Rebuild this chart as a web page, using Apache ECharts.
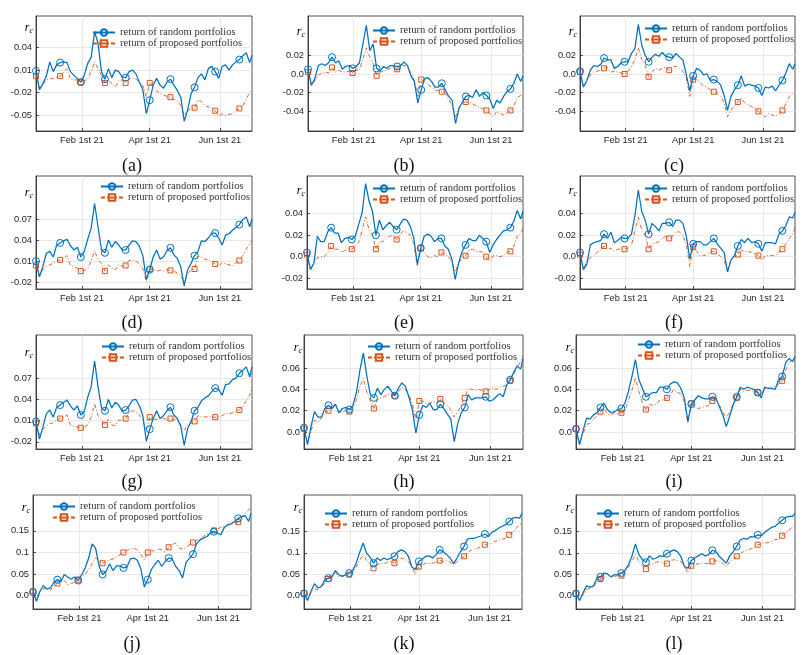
<!DOCTYPE html>
<html><head><meta charset="utf-8">
<script src="https://cdn.jsdelivr.net/npm/echarts@6/dist/echarts.min.js"></script>
<style>html,body{margin:0;padding:0;background:#fff}#c{width:807px;height:655px}</style>
</head><body><div id="c"></div>
<script>
// ---------- data ----------
const dates = ['2020-12-23','2020-12-26','2020-12-29','2021-01-01','2021-01-04','2021-01-07','2021-01-10','2021-01-13','2021-01-16','2021-01-19',
'2021-01-22','2021-01-25','2021-01-28','2021-01-31','2021-02-03','2021-02-06','2021-02-09','2021-02-12','2021-02-15','2021-02-18',
'2021-02-21','2021-02-24','2021-02-27','2021-03-02','2021-03-05','2021-03-08','2021-03-11','2021-03-14','2021-03-17','2021-03-20',
'2021-03-23','2021-03-26','2021-03-29','2021-04-01','2021-04-04','2021-04-07','2021-04-10','2021-04-13','2021-04-16','2021-04-19',
'2021-04-22','2021-04-25','2021-04-28','2021-05-01','2021-05-04','2021-05-07','2021-05-10','2021-05-13','2021-05-16','2021-05-19',
'2021-05-22','2021-05-25','2021-05-28','2021-05-31','2021-06-03','2021-06-06','2021-06-09','2021-06-12','2021-06-15','2021-06-18',
'2021-06-21','2021-06-24','2021-06-27','2021-06-29'];
const xRange = ['2020-12-23','2021-06-29'];
const xTickDates = ['2021-02-01','2021-04-01','2021-06-01'];
const xTickLabels = ['Feb 1st 21','Apr 1st 21','Jun 1st 21'];
const seriesNames = ['return of random portfolios','return of proposed portfolios'];
const markerIdx = [0,7,13,20,26,33,39,46,52,59];
const panelLabels = ['(a)','(b)','(c)','(d)','(e)','(f)','(g)','(h)','(i)','(j)','(k)','(l)'];

const randA = [0.009,-0.016,-0.008,0.002,0.021,0.008,0.017,0.020,0.021,0.020,0.008,0.003,-0.001,-0.006,0.003,0.019,0.027,0.061,0.046,0.008,-0.002,0.012,0.000,0.010,0.008,0.001,0.000,0.008,0.010,0.005,-0.006,-0.016,-0.048,-0.030,-0.010,-0.001,-0.010,-0.014,-0.006,-0.002,-0.010,-0.017,-0.026,-0.058,-0.043,-0.021,-0.013,0.000,0.005,-0.003,0.012,0.015,0.008,-0.001,0.015,0.017,0.010,0.017,0.021,0.024,0.029,0.033,0.020,0.030];
const propA = [0.002,-0.014,-0.009,-0.003,-0.002,-0.001,0.000,0.002,0.007,0.012,-0.002,-0.003,-0.003,-0.006,-0.004,-0.002,0.008,0.021,0.012,0.003,-0.007,-0.003,-0.008,-0.013,-0.004,-0.003,-0.007,-0.002,0.000,-0.002,-0.006,-0.011,-0.025,-0.007,-0.011,-0.018,-0.021,-0.023,-0.025,-0.026,-0.029,-0.031,-0.037,-0.050,-0.044,-0.041,-0.040,-0.030,-0.032,-0.037,-0.039,-0.041,-0.044,-0.051,-0.048,-0.050,-0.049,-0.048,-0.044,-0.041,-0.038,-0.028,-0.020,-0.018];
const randB = [0.005,-0.012,-0.005,0.009,0.011,0.009,0.012,0.018,0.012,0.014,0.005,0.008,0.009,0.006,0.008,0.012,0.032,0.052,0.025,0.032,0.006,0.003,0.008,0.006,0.009,0.009,0.008,0.009,0.013,0.009,-0.002,-0.008,-0.031,-0.017,-0.005,-0.004,-0.008,-0.014,-0.014,-0.010,-0.017,-0.024,-0.028,-0.053,-0.037,-0.030,-0.024,-0.023,-0.025,-0.017,-0.024,-0.020,-0.023,-0.027,-0.037,-0.028,-0.031,-0.024,-0.019,-0.016,-0.010,0.000,-0.008,-0.002];
const propB = [0.002,-0.013,-0.007,-0.001,0.001,0.002,0.001,0.007,0.002,0.004,0.002,0.002,0.003,0.001,0.004,0.004,0.016,0.028,0.018,0.011,-0.002,0.002,0.003,0.004,0.006,0.007,0.005,0.010,0.009,0.008,0.001,-0.007,-0.024,-0.006,-0.008,-0.011,-0.014,-0.017,-0.018,-0.019,-0.021,-0.027,-0.034,-0.046,-0.036,-0.031,-0.030,-0.030,-0.032,-0.034,-0.036,-0.037,-0.039,-0.042,-0.046,-0.040,-0.042,-0.044,-0.042,-0.039,-0.034,-0.025,-0.023,-0.021];
const randC = [0.003,-0.014,-0.007,0.004,0.009,0.008,0.010,0.017,0.015,0.015,0.006,0.008,0.012,0.013,0.013,0.022,0.027,0.053,0.031,0.020,0.013,0.018,0.021,0.019,0.023,0.019,0.018,0.017,0.022,0.018,0.015,-0.001,-0.018,-0.002,0.006,0.004,-0.001,0.000,-0.007,-0.006,-0.008,-0.012,-0.023,-0.039,-0.024,-0.017,-0.012,-0.002,-0.013,-0.011,-0.012,-0.013,-0.015,-0.023,-0.014,-0.015,-0.013,-0.018,-0.012,-0.007,0.001,0.011,0.005,0.011];
const propC = [0.002,-0.014,-0.007,-0.001,0.002,0.003,0.004,0.006,0.007,0.002,0.003,0.002,0.001,0.000,0.003,0.008,0.015,0.028,0.015,0.009,-0.003,0.002,0.006,0.004,0.006,0.007,0.004,0.008,0.008,0.006,0.003,-0.005,-0.024,-0.006,-0.006,-0.009,-0.013,-0.014,-0.017,-0.019,-0.021,-0.024,-0.031,-0.046,-0.039,-0.034,-0.030,-0.026,-0.031,-0.033,-0.035,-0.037,-0.040,-0.043,-0.046,-0.042,-0.044,-0.045,-0.043,-0.039,-0.032,-0.024,-0.021,-0.021];
const randD = [0.010,-0.012,0.003,0.021,0.024,0.016,0.033,0.036,0.039,0.041,0.032,0.026,0.030,0.016,0.024,0.041,0.057,0.092,0.059,0.026,0.022,0.040,0.030,0.038,0.033,0.026,0.026,0.033,0.039,0.038,0.031,0.018,-0.016,-0.002,0.016,0.026,0.013,0.016,0.025,0.029,0.019,0.014,0.002,-0.025,-0.002,0.007,0.018,0.024,0.039,0.038,0.043,0.050,0.050,0.043,0.033,0.047,0.049,0.054,0.058,0.062,0.069,0.073,0.059,0.070];
const propD = [0.004,-0.012,-0.002,0.003,0.005,0.007,0.010,0.012,0.014,0.018,0.004,0.002,0.000,-0.004,-0.003,0.000,0.010,0.025,0.012,0.007,-0.004,0.005,0.000,-0.002,0.005,0.003,0.004,0.011,0.012,0.010,0.006,0.000,-0.019,-0.001,-0.002,-0.004,-0.003,-0.004,-0.002,-0.003,-0.004,-0.007,-0.010,-0.021,-0.007,-0.003,-0.001,0.017,0.016,0.013,0.012,0.010,0.006,0.003,0.008,0.006,0.005,0.003,0.008,0.011,0.018,0.027,0.035,0.040];
const randE = [0.004,-0.012,-0.006,0.019,0.014,0.014,0.023,0.027,0.022,0.022,0.013,0.017,0.018,0.016,0.019,0.030,0.041,0.068,0.052,0.042,0.020,0.034,0.025,0.029,0.032,0.028,0.025,0.030,0.035,0.034,0.028,0.017,-0.007,0.008,0.019,0.021,0.019,0.014,0.017,0.017,0.010,0.007,-0.002,-0.021,-0.006,0.005,0.011,0.017,0.015,0.015,0.020,0.017,0.014,0.004,0.011,0.016,0.020,0.024,0.025,0.027,0.033,0.043,0.035,0.042];
const propE = [0.002,-0.012,-0.006,-0.001,0.000,0.000,0.004,0.010,0.007,0.007,0.004,0.006,0.007,0.007,0.010,0.013,0.025,0.037,0.025,0.020,0.007,0.014,0.014,0.017,0.019,0.020,0.016,0.021,0.024,0.022,0.020,0.012,-0.009,0.008,0.004,0.000,-0.001,0.001,0.000,0.004,0.002,0.000,-0.004,-0.014,-0.006,-0.001,0.001,0.006,0.007,0.005,0.005,0.004,0.000,-0.004,0.001,0.001,0.000,0.001,0.004,0.005,0.010,0.019,0.022,0.026];
const randF = [0.004,-0.012,-0.007,0.011,0.013,0.014,0.015,0.021,0.017,0.023,0.013,0.015,0.018,0.017,0.017,0.021,0.038,0.062,0.042,0.034,0.021,0.031,0.028,0.024,0.031,0.031,0.032,0.028,0.034,0.034,0.031,0.019,-0.002,0.012,0.014,0.014,0.011,0.011,0.014,0.017,0.012,0.008,0.004,-0.014,-0.003,0.001,0.010,0.016,0.013,0.017,0.013,0.014,0.012,0.005,0.013,0.013,0.013,0.012,0.021,0.024,0.029,0.037,0.036,0.041];
const propF = [0.002,-0.012,-0.004,-0.001,0.001,0.004,0.006,0.010,0.007,0.008,0.005,0.007,0.007,0.007,0.008,0.011,0.024,0.037,0.025,0.020,0.007,0.012,0.013,0.014,0.017,0.019,0.017,0.019,0.023,0.023,0.020,0.011,-0.009,0.009,0.005,0.001,0.001,0.002,0.004,0.005,0.003,0.000,-0.003,-0.014,-0.003,0.000,0.002,0.006,0.005,0.005,0.004,0.003,0.001,-0.003,0.001,0.001,0.001,0.001,0.005,0.007,0.012,0.017,0.021,0.027];
const randG = [0.009,-0.016,0.001,0.020,0.025,0.015,0.029,0.032,0.036,0.039,0.031,0.025,0.031,0.018,0.023,0.043,0.058,0.094,0.058,0.028,0.024,0.040,0.028,0.036,0.032,0.023,0.025,0.031,0.039,0.040,0.031,0.017,-0.019,-0.002,0.013,0.024,0.013,0.017,0.024,0.029,0.018,0.013,0.002,-0.025,-0.001,0.009,0.024,0.029,0.038,0.042,0.045,0.051,0.056,0.054,0.046,0.061,0.062,0.068,0.070,0.077,0.081,0.086,0.072,0.086];
const propG = [0.006,-0.010,-0.002,0.002,0.006,0.007,0.011,0.013,0.015,0.018,0.004,0.002,0.001,0.000,0.001,0.004,0.015,0.034,0.017,0.011,0.004,0.012,0.004,0.003,0.011,0.010,0.013,0.021,0.024,0.023,0.018,0.010,-0.003,0.015,0.011,0.012,0.013,0.013,0.012,0.013,0.012,0.010,0.004,-0.004,0.004,0.007,0.009,0.017,0.016,0.015,0.016,0.015,0.015,0.015,0.017,0.020,0.020,0.021,0.023,0.025,0.030,0.038,0.046,0.057];
const randH = [0.004,-0.012,0.005,0.019,0.014,0.014,0.022,0.025,0.022,0.026,0.018,0.022,0.023,0.021,0.025,0.037,0.058,0.074,0.052,0.035,0.032,0.041,0.035,0.040,0.043,0.038,0.034,0.041,0.046,0.043,0.033,0.021,-0.001,0.016,0.025,0.023,0.027,0.021,0.021,0.026,0.022,0.017,0.012,-0.009,0.008,0.018,0.023,0.035,0.030,0.032,0.032,0.032,0.033,0.029,0.030,0.033,0.036,0.033,0.044,0.049,0.056,0.062,0.059,0.069];
const propH = [0.003,-0.010,0.001,0.011,0.009,0.013,0.018,0.020,0.023,0.026,0.018,0.019,0.020,0.019,0.023,0.030,0.043,0.050,0.037,0.029,0.022,0.030,0.032,0.033,0.035,0.035,0.034,0.038,0.042,0.040,0.035,0.027,0.011,0.029,0.029,0.027,0.027,0.029,0.027,0.031,0.028,0.025,0.021,0.014,0.019,0.025,0.032,0.041,0.040,0.039,0.040,0.039,0.038,0.040,0.042,0.040,0.042,0.043,0.044,0.048,0.054,0.061,0.066,0.072];
const randI = [0.003,-0.012,0.001,0.013,0.012,0.016,0.018,0.023,0.027,0.021,0.018,0.019,0.021,0.022,0.027,0.038,0.052,0.068,0.049,0.041,0.033,0.035,0.037,0.037,0.042,0.042,0.040,0.045,0.047,0.046,0.041,0.032,0.010,0.026,0.030,0.034,0.032,0.031,0.031,0.033,0.032,0.024,0.016,0.005,0.015,0.026,0.033,0.042,0.040,0.042,0.041,0.040,0.037,0.032,0.042,0.041,0.041,0.040,0.049,0.052,0.065,0.069,0.066,0.071];
const propI = [0.003,-0.011,-0.002,0.007,0.008,0.012,0.015,0.019,0.023,0.017,0.016,0.018,0.017,0.018,0.020,0.030,0.039,0.051,0.038,0.027,0.021,0.026,0.025,0.026,0.030,0.030,0.032,0.035,0.040,0.037,0.036,0.028,0.008,0.027,0.023,0.022,0.023,0.024,0.025,0.029,0.030,0.025,0.019,0.013,0.019,0.026,0.032,0.040,0.038,0.039,0.039,0.038,0.037,0.035,0.041,0.041,0.041,0.043,0.045,0.048,0.058,0.065,0.068,0.070];
const randJ = [0.008,-0.013,0.010,0.023,0.015,0.018,0.031,0.037,0.033,0.049,0.043,0.038,0.043,0.035,0.049,0.064,0.087,0.120,0.110,0.068,0.049,0.056,0.074,0.058,0.069,0.069,0.064,0.066,0.085,0.087,0.082,0.062,0.020,0.037,0.060,0.072,0.082,0.068,0.079,0.087,0.085,0.068,0.058,0.041,0.077,0.087,0.096,0.120,0.129,0.133,0.137,0.145,0.148,0.145,0.141,0.158,0.164,0.166,0.172,0.179,0.183,0.185,0.172,0.191];
const propJ = [0.010,-0.005,0.010,0.015,0.020,0.012,0.023,0.028,0.031,0.035,0.025,0.028,0.031,0.037,0.045,0.049,0.060,0.074,0.087,0.083,0.075,0.079,0.082,0.085,0.089,0.095,0.100,0.105,0.108,0.110,0.106,0.095,0.083,0.100,0.105,0.102,0.108,0.106,0.102,0.112,0.118,0.122,0.110,0.108,0.112,0.118,0.123,0.128,0.131,0.137,0.143,0.146,0.151,0.154,0.158,0.161,0.164,0.168,0.168,0.170,0.182,0.191,0.198,0.206];
const randK = [0.005,-0.011,0.010,0.028,0.018,0.022,0.037,0.041,0.044,0.059,0.049,0.045,0.049,0.053,0.059,0.076,0.101,0.123,0.099,0.090,0.076,0.088,0.082,0.088,0.084,0.088,0.092,0.103,0.107,0.103,0.092,0.067,0.061,0.080,0.085,0.092,0.093,0.088,0.096,0.107,0.103,0.096,0.088,0.075,0.088,0.103,0.115,0.132,0.134,0.134,0.137,0.140,0.144,0.138,0.148,0.152,0.158,0.162,0.166,0.173,0.181,0.183,0.181,0.193];
const propK = [0.006,-0.006,0.006,0.016,0.014,0.020,0.030,0.039,0.044,0.054,0.045,0.047,0.048,0.049,0.054,0.067,0.082,0.096,0.082,0.072,0.064,0.072,0.076,0.075,0.078,0.080,0.076,0.082,0.088,0.085,0.080,0.067,0.051,0.068,0.072,0.076,0.075,0.076,0.078,0.082,0.080,0.082,0.078,0.070,0.080,0.085,0.092,0.101,0.106,0.109,0.111,0.115,0.119,0.121,0.123,0.127,0.129,0.132,0.134,0.142,0.148,0.158,0.166,0.169];
const randL = [0.005,-0.011,0.006,0.023,0.020,0.023,0.041,0.044,0.053,0.051,0.044,0.049,0.049,0.053,0.059,0.072,0.092,0.121,0.096,0.084,0.078,0.093,0.085,0.088,0.093,0.092,0.098,0.103,0.107,0.103,0.092,0.068,0.064,0.082,0.088,0.093,0.098,0.093,0.096,0.106,0.103,0.092,0.084,0.076,0.093,0.103,0.115,0.130,0.134,0.132,0.138,0.137,0.142,0.140,0.148,0.154,0.160,0.162,0.169,0.176,0.183,0.185,0.185,0.193];
const propL = [0.005,-0.008,0.002,0.014,0.018,0.020,0.033,0.039,0.051,0.051,0.044,0.045,0.047,0.047,0.053,0.067,0.080,0.096,0.080,0.070,0.062,0.072,0.075,0.078,0.080,0.076,0.075,0.082,0.084,0.082,0.080,0.070,0.053,0.070,0.072,0.075,0.076,0.075,0.075,0.080,0.082,0.080,0.076,0.067,0.080,0.085,0.092,0.098,0.103,0.107,0.109,0.113,0.119,0.121,0.123,0.124,0.127,0.131,0.132,0.140,0.146,0.154,0.161,0.168];

const yTicksA = ['-0.05','-0.02','0.01','0.04'];
const yTicksB = ['-0.04','-0.02','0.0','0.02'];
const yTicksD = ['-0.02','0.01','0.04','0.07'];
const yTicksE = ['-0.02','0.0','0.02','0.04'];
const yTicksH = ['0.0','0.02','0.04','0.06'];
const yTicksJ = ['0.0','0.05','0.1','0.15'];
const yRangeA = [-0.071, 0.082];
const yRangeB = [-0.061, 0.062];
const yRangeD = [-0.0294, 0.131];
const yRangeE = [-0.030, 0.075];
const yRangeG = [-0.030, 0.131];
const yRangeH = [-0.016, 0.091];
const yRangeJ = [-0.031, 0.233];
const yRangeK = [-0.031, 0.235];

// ---------- layout / style ----------
const BLUE = '#0072BD', ORANGE = '#D95319', AX = '#262626', GRID = '#e2e2e2';
const panels = [
  {r:randA,p:propA,t:yTicksA,y:yRangeA,box:[36,252,16,131],lg:[92,27],rc:[33,28],cap:[132,166]},
  {r:randB,p:propB,t:yTicksB,y:yRangeB,box:[308,523,16,131],lg:[372,25],rc:[305,32],cap:[404,166]},
  {r:randC,p:propC,t:yTicksB,y:yRangeB,box:[580,795,16,131],lg:[644,23],rc:[577,32],cap:[674,166]},
  {r:randD,p:propD,t:yTicksD,y:yRangeD,box:[36,252,176,289],lg:[100,181],rc:[33,193],cap:[132,323]},
  {r:randE,p:propE,t:yTicksE,y:yRangeE,box:[307,523,176,289],lg:[372,183],rc:[305,191],cap:[404,323]},
  {r:randF,p:propF,t:yTicksE,y:yRangeE,box:[580,795,176,289],lg:[644,183],rc:[577,191],cap:[674,323]},
  {r:randG,p:propG,t:yTicksD,y:yRangeG,box:[36,252,335,449],lg:[101,341],rc:[33,353],cap:[132,482]},
  {r:randH,p:propH,t:yTicksH,y:yRangeH,box:[304,523,335,449],lg:[367,341],rc:[302,348],cap:[404,482]},
  {r:randI,p:propI,t:yTicksH,y:yRangeH,box:[576,795,335,449],lg:[637,339],rc:[574,348],cap:[674,482]},
  {r:randJ,p:propJ,t:yTicksJ,y:yRangeJ,box:[33,251,495,609],lg:[52,501],rc:[30,508],cap:[132,644]},
  {r:randK,p:propK,t:yTicksJ,y:yRangeK,box:[304,522,495,609],lg:[324,508],rc:[302,508],cap:[404,644]},
  {r:randL,p:propL,t:yTicksJ,y:yRangeK,box:[576,795,495,609],lg:[596,508],rc:[574,508],cap:[674,644]}
];

const toTime = s => +echarts.time.parse(s);
const markerSet = new Set(markerIdx);
const xTickVals = xTickDates.map(toTime);
const xTimes = dates.map(toTime);
function nearestLabel(v, vals, labels) {
  let bi = 0, bd = Infinity;
  vals.forEach((x, i) => { const d = Math.abs(x - v); if (d < bd) { bd = d; bi = i; } });
  return labels[bi];
}

const TICK_FONT = {fontFamily: 'Liberation Sans', fontSize: 9.3, color: AX};
const grid = [], xAxis = [], yAxis = [], series = [], legend = [], graphic = [];
panels.forEach((P, i) => {
  const [l, r, t, b] = P.box;
  grid.push({left: l, top: t, width: r - l, height: b - t, show: true, borderColor: AX, borderWidth: 0.8,
             backgroundColor: 'transparent', containLabel: false, outerBoundsMode: 'none'});
  xAxis.push({
    type: 'value', gridIndex: i, min: toTime(xRange[0]), max: toTime(xRange[1]),
    axisLine: {show: true, onZero: false, lineStyle: {color: AX, width: 0.8}},
    axisTick: {show: true, inside: true, length: 3, customValues: xTickVals, lineStyle: {color: AX, width: 0.8}},
    axisLabel: Object.assign({show: true, customValues: xTickVals, margin: 5,
                formatter: v => nearestLabel(v, xTickVals, xTickLabels), hideOverlap: false}, TICK_FONT),
    splitLine: {show: true, lineStyle: {color: GRID, width: 0.8}}
  });
  const yVals = P.t.map(parseFloat);
  yAxis.push({
    type: 'value', gridIndex: i, min: P.y[0], max: P.y[1],
    axisLine: {show: true, onZero: false, lineStyle: {color: AX, width: 0.8}},
    axisTick: {show: true, inside: true, length: 3, customValues: yVals, lineStyle: {color: AX, width: 0.8}},
    axisLabel: Object.assign({show: true, customValues: yVals, margin: 4,
                formatter: v => nearestLabel(v, yVals, P.t), hideOverlap: false}, TICK_FONT),
    splitLine: {show: true, lineStyle: {color: GRID, width: 0.8}}
  });
  series.push({
    type: 'line', name: seriesNames[0], xAxisIndex: i, yAxisIndex: i,
    data: xTimes.map((x, k) => [x, P.r[k]]),
    symbol: 'circle', showSymbol: true,
    symbolSize: (v, params) => markerSet.has(params.dataIndex) ? 7 : 0,
    lineStyle: {color: BLUE, width: 1.25},
    itemStyle: {color: 'rgba(255,255,255,0)', borderColor: BLUE, borderWidth: 1},
    emphasis: {disabled: true}, z: 3, silent: true
  });
  series.push({
    type: 'line', name: seriesNames[1], xAxisIndex: i, yAxisIndex: i,
    data: xTimes.map((x, k) => [x, P.p[k]]),
    symbol: 'rect', showSymbol: true,
    symbolSize: (v, params) => markerSet.has(params.dataIndex) ? 5 : 0,
    lineStyle: {color: ORANGE, width: 0.9, type: [4, 2, 1, 2]},
    itemStyle: {color: 'rgba(255,255,255,0)', borderColor: ORANGE, borderWidth: 1},
    emphasis: {disabled: true}, z: 2, silent: true
  });
  legend.push({
    left: P.lg[0], top: P.lg[1], orient: 'vertical', padding: 0, itemWidth: 22, itemHeight: 8, itemGap: 0,
    selectedMode: false, data: seriesNames,
    textStyle: {fontFamily: 'Liberation Serif', fontSize: 10.6, lineHeight: 11, color: '#333'}
  });
  graphic.push({
    type: 'text', x: P.rc[0], y: P.rc[1], silent: true,
    style: {text: '{r|r}{c|c}', align: 'right', verticalAlign: 'middle',
      rich: {r: {fontFamily: 'Liberation Serif', fontStyle: 'italic', fontSize: 12, color: '#555'},
             c: {fontFamily: 'Liberation Serif', fontStyle: 'italic', fontSize: 8, color: '#555', padding: [5, 0, 0, 0]}}}
  });
  graphic.push({
    type: 'text', x: P.cap[0], y: P.cap[1], silent: true,
    style: {text: panelLabels[i], align: 'center', verticalAlign: 'middle', fill: '#111',
            font: '18px "Liberation Serif"'}
  });
});

const chart = echarts.init(document.getElementById('c'), null, {renderer: 'canvas'});
chart.setOption({animation: false, backgroundColor: '#fff', grid, xAxis, yAxis, series, legend, graphic});
</script></body></html>
